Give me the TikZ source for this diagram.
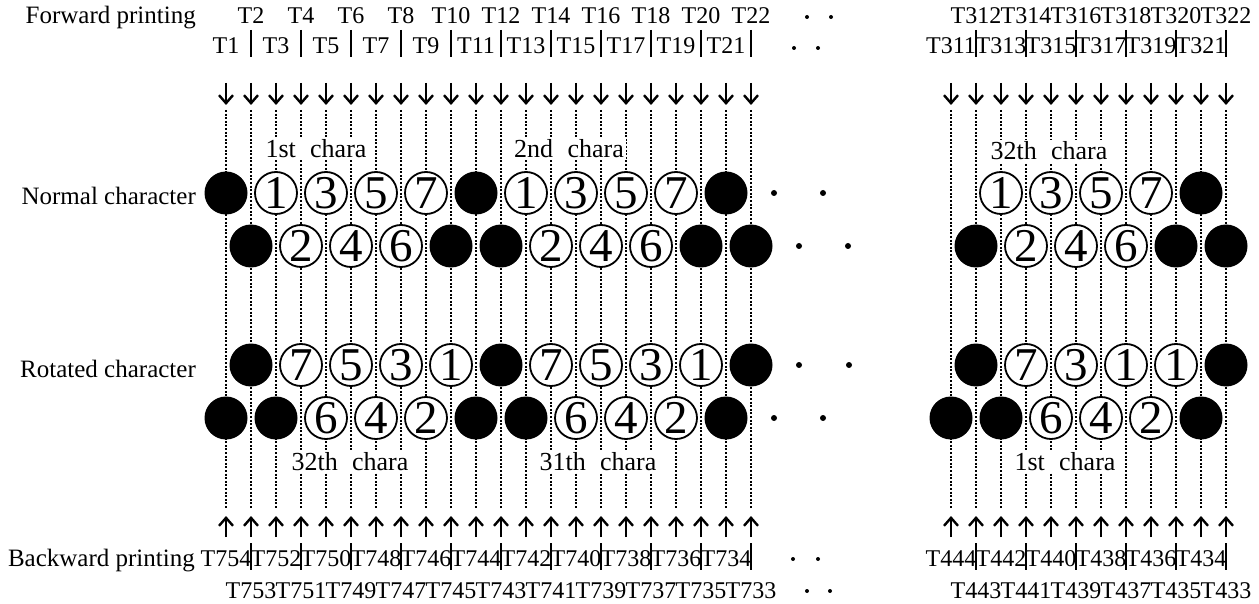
\documentclass[tikz,border=0pt]{standalone}
\usepackage{fontspec}
\setmainfont{Liberation Serif}
\usepackage{tikz}
\usetikzlibrary{arrows.meta}

\begin{document}
\begin{tikzpicture}[x=1pt,y=-1pt,
    fullc/.style={circle, fill=black, inner sep=0pt, minimum size=43pt},
    numc/.style={circle, draw=black, fill=white, line width=1.8pt,
                 inner sep=0pt, minimum size=42pt, font=\fontsize{47}{47}\selectfont},
    tlab/.style={anchor=base, inner sep=0pt, font=\fontsize{24}{28}\selectfont},
    side/.style={anchor=base east, inner sep=0pt, font=\fontsize{25}{30}\selectfont},
    chara/.style={anchor=base, fill=white, inner sep=2pt, font=\fontsize{26}{30}\selectfont},
    guide/.style={line width=2.2pt, dash pattern=on 2pt off 1.6pt},
    feed/.style={line width=2.4pt, -{Straight Barb[length=8pt,width=14pt,line width=2.4pt]}},
    sep/.style={line width=1.3pt}]

  \useasboundingbox (0,0) rectangle (1259,604);

  % -- columns: dotted guide, feed arrow in from the top and from the bottom
  \foreach \k in {1,...,22}{
    \pgfmathsetmacro\x{201+25*\k}
    \coordinate (Lt\k) at (\x,110); \coordinate (Lb\k) at (\x,508);
    \coordinate (Lf\k) at (\x,83);  \coordinate (Lg\k) at (\x,105);
    \coordinate (Lu\k) at (\x,537); \coordinate (Lv\k) at (\x,516);
    \draw[guide] (Lt\k) -- (Lb\k);
    \draw[feed] (Lf\k) -- (Lg\k);
    \draw[feed] (Lu\k) -- (Lv\k);}
  \foreach \k in {1,...,12}{
    \pgfmathsetmacro\x{926+25*\k}
    \coordinate (Rt\k) at (\x,110); \coordinate (Rb\k) at (\x,508);
    \coordinate (Rf\k) at (\x,83);  \coordinate (Rg\k) at (\x,105);
    \coordinate (Ru\k) at (\x,537); \coordinate (Rv\k) at (\x,516);
    \draw[guide] (Rt\k) -- (Rb\k);
    \draw[feed] (Rf\k) -- (Rg\k);
    \draw[feed] (Ru\k) -- (Rv\k);}

  % -- forward timing labels
  \node[side] (fwd) at (196,24) {Forward printing};
  \foreach \k in {2,4,...,22}{
    \pgfmathtruncatemacro\x{201+25*\k}
    \pgfmathtruncatemacro\o{\k-1}
    \node[tlab] (fe\k) at (\x,24) {T\k};
    \node[tlab] (fo\o) at (\x-25,54) {T\o};
    \draw[sep] (\x,30) -- (\x,57);}
  \foreach \k in {2,4,...,12}{
    \pgfmathtruncatemacro\x{926+25*\k}
    \pgfmathtruncatemacro\n{310+\k}
    \pgfmathtruncatemacro\o{309+\k}
    \node[tlab] (rfe\k) at (\x,24) {T\n};
    \node[tlab] (rfo\k) at (\x-25,54) {T\o};
    \draw[sep] (\x,30) -- (\x,57);}

  % -- backward timing labels
  \node[side] (bwd) at (195,566) {Backward printing};
  \foreach \k in {2,4,...,22}{
    \pgfmathtruncatemacro\x{201+25*\k}
    \pgfmathtruncatemacro\n{755-\k}
    \pgfmathtruncatemacro\o{756-\k}
    \node[tlab] (bo\k) at (\x-25,566) {T\o};
    \node[tlab] (be\k) at (\x,598) {T\n};
    \draw[sep] (\x,543) -- (\x,570);}
  \foreach \k in {2,4,...,12}{
    \pgfmathtruncatemacro\x{926+25*\k}
    \pgfmathtruncatemacro\n{445-\k}
    \pgfmathtruncatemacro\o{446-\k}
    \node[tlab] (rbo\k) at (\x-25,566) {T\o};
    \node[tlab] (rbe\k) at (\x,598) {T\n};
    \draw[sep] (\x,543) -- (\x,570);}

  % -- continuation dots in the label rows
  \foreach \x/\y in {807/17, 831/17, 794/48, 818/48, 793/559, 818/559, 807/591, 830/591}
    \fill (\x,\y) circle (2);

  % -- normal character
  \node[side] (norm) at (196,205) {Normal character};
  \foreach \c in {1,11,21}{\node[fullc] (a\c) at ({201+25*\c},193) {};}
  \foreach \c/\v in {3/1,5/3,7/5,9/7,13/1,15/3,17/5,19/7}{
    \node[numc] (a\c) at ({201+25*\c},193) {\v};}
  \foreach \c in {2,10,12,20,22}{\node[fullc] (b\c) at ({201+25*\c},246) {};}
  \foreach \c/\v in {4/2,6/4,8/6,14/2,16/4,18/6}{
    \node[numc] (b\c) at ({201+25*\c},246) {\v};}
  \foreach \c in {11}{\node[fullc] (ra\c) at ({926+25*\c},193) {};}
  \foreach \c/\v in {3/1,5/3,7/5,9/7}{
    \node[numc] (ra\c) at ({926+25*\c},193) {\v};}
  \foreach \c in {2,10,12}{\node[fullc] (rb\c) at ({926+25*\c},246) {};}
  \foreach \c/\v in {4/2,6/4,8/6}{
    \node[numc] (rb\c) at ({926+25*\c},246) {\v};}

  % -- rotated character
  \node[side] (rot) at (196,377) {Rotated character};
  \foreach \c in {2,12,22}{\node[fullc] (c\c) at ({201+25*\c},365) {};}
  \foreach \c/\v in {4/7,6/5,8/3,10/1,14/7,16/5,18/3,20/1}{
    \node[numc] (c\c) at ({201+25*\c},365) {\v};}
  \foreach \c in {1,3,11,13,21}{\node[fullc] (d\c) at ({201+25*\c},418) {};}
  \foreach \c/\v in {5/6,7/4,9/2,15/6,17/4,19/2}{
    \node[numc] (d\c) at ({201+25*\c},418) {\v};}
  \foreach \c in {2,12}{\node[fullc] (rc\c) at ({926+25*\c},365) {};}
  \foreach \c/\v in {4/7,6/3,8/1,10/1}{
    \node[numc] (rc\c) at ({926+25*\c},365) {\v};}
  \foreach \c in {1,3,11}{\node[fullc] (rd\c) at ({926+25*\c},418) {};}
  \foreach \c/\v in {5/6,7/4,9/2}{
    \node[numc] (rd\c) at ({926+25*\c},418) {\v};}

  % -- continuation dots in the circle rows
  \foreach \x/\y in {774/193, 823/193, 799/246, 848/246, 799/365, 849/365, 774/418, 823/418}
    \fill (\x,\y) circle (3);

  % -- character captions
  \node[chara] (c1) at (316,158) {1st\hspace{0.55em}chara};
  \node[chara] (c2) at (569,158) {2nd\hspace{0.55em}chara};
  \node[chara] (c32) at (1049,160) {32th\hspace{0.55em}chara};
  \node[chara] (d32) at (350,470) {32th\hspace{0.55em}chara};
  \node[chara] (d31) at (598,470) {31th\hspace{0.55em}chara};
  \node[chara] (d1) at (1065,470) {1st\hspace{0.55em}chara};
\end{tikzpicture}
\end{document}
